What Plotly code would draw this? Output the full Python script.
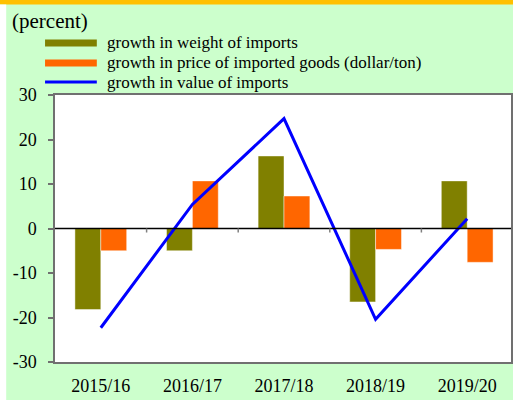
import plotly.graph_objects as go

categories = ["2015/16", "2016/17", "2017/18", "2018/19", "2019/20"]
weight_growth = [-18.2, -5.0, 16.3, -16.5, 10.7]
price_growth = [-5.0, 10.7, 7.3, -4.7, -7.6]
value_growth = [-22.3, 5.4, 24.7, -20.4, 2.2]
series_names = [
    "growth in weight of imports",
    "growth in price of imported goods (dollar/ton)",
    "growth in value of imports",
]
y_ticks = [-30, -20, -10, 0, 10, 20, 30]
y_tick_labels = ["-30", "-20", "-10", "0", "10", "20", "30"]
unit_label = "(percent)"

OLIVE = "#808000"
ORANGE = "#FF6600"
BLUE = "#0000FF"
GREEN_BG = "#CCFFCC"
GOLD = "#FFC000"
FONT = "'Times New Roman', 'Liberation Serif', 'DejaVu Serif', serif"

W, H = 513, 403
L, R, T, B = 55, 0, 95, 41
PW = W - L - R
PH = H - T - B


def px(xp):
    return (xp - L) / PW


def py(yp):
    return (H - B - yp) / PH


xs = list(range(len(categories)))

fig = go.Figure()
fig.add_trace(go.Bar(x=xs, y=weight_growth, name=series_names[0],
                     marker=dict(color=OLIVE, line=dict(color="rgba(255,255,255,0.45)", width=1)),
                     showlegend=False))
fig.add_trace(go.Bar(x=xs, y=price_growth, name=series_names[1],
                     marker=dict(color=ORANGE, line=dict(color="rgba(255,255,255,0.45)", width=1)),
                     showlegend=False))
fig.add_trace(go.Scatter(x=xs, y=value_growth, name=series_names[2], mode="lines",
                         line=dict(color=BLUE, width=3), showlegend=False))

shapes = []
# zero line
shapes.append(dict(type="line", xref="paper", yref="y", x0=0, x1=1, y0=0, y1=0,
                   line=dict(color="black", width=1.5), layer="above"))
# category boundary ticks at zero line
for i in range(len(categories) - 1):
    shapes.append(dict(type="line", xref="x", yref="y", x0=i + 0.5, x1=i + 0.5, y0=0, y1=-0.9,
                       line=dict(color="#808080", width=1.5), layer="above"))
# gold top stripe
shapes.append(dict(type="rect", xref="paper", yref="paper", x0=px(-5), x1=px(W + 5),
                   y0=py(4.5), y1=py(-5), fillcolor=GOLD, line=dict(width=0)))
# white left strip and bottom strip
shapes.append(dict(type="rect", xref="paper", yref="paper", x0=px(-5), x1=px(6),
                   y0=py(H + 5), y1=py(4.5), fillcolor="white", line=dict(width=0)))
shapes.append(dict(type="rect", xref="paper", yref="paper", x0=px(-5), x1=px(W + 5),
                   y0=py(H + 5), y1=py(400), fillcolor="white", line=dict(width=0)))

# manual legend
rows_y = [43, 63, 82]
colors = [OLIVE, ORANGE, BLUE]
annotations = []
for i, (name, c, ry) in enumerate(zip(series_names, colors, rows_y)):
    if i < 2:
        shapes.append(dict(type="rect", xref="paper", yref="paper", x0=px(45), x1=px(97),
                           y0=py(ry + 3.5), y1=py(ry - 3.5), fillcolor=c, line=dict(width=0)))
    else:
        shapes.append(dict(type="line", xref="paper", yref="paper", x0=px(45), x1=px(97),
                           y0=py(ry), y1=py(ry), line=dict(color=c, width=3)))
    annotations.append(dict(text=name, xref="paper", yref="paper", x=px(105), y=py(ry),
                            xanchor="left", yanchor="middle", showarrow=False,
                            font=dict(family=FONT, size=17, color="black")))
annotations.append(dict(text=unit_label, xref="paper", yref="paper", x=px(10), y=py(21),
                        xanchor="left", yanchor="middle", showarrow=False,
                        font=dict(family=FONT, size=21, color="black")))

fig.update_layout(
    width=W, height=H,
    margin=dict(l=L, r=R, t=T, b=B, pad=0),
    paper_bgcolor=GREEN_BG,
    plot_bgcolor="white",
    barmode="group",
    bargap=0.435,
    bargroupgap=0,
    font=dict(family=FONT, size=18, color="black"),
    shapes=shapes,
    annotations=annotations,
    xaxis=dict(
        tickmode="array", tickvals=xs, ticktext=categories,
        range=[-0.5, -0.5 + PW / 92.0],
        showgrid=False, zeroline=False,
        showline=True, mirror=True, linecolor="#707070", linewidth=1.5,
        ticks="", ticklabelstandoff=7,
        tickfont=dict(family=FONT, size=18, color="black"),
        fixedrange=True,
    ),
    yaxis=dict(
        range=[-30, 30], tickmode="array", tickvals=y_ticks, ticktext=y_tick_labels,
        showgrid=False, zeroline=False,
        showline=True, mirror=True, linecolor="#707070", linewidth=1.5,
        ticks="outside", ticklen=5, tickcolor="#707070", tickwidth=1.5,
        ticklabelstandoff=8,
        tickfont=dict(family=FONT, size=18, color="black"),
        fixedrange=True,
    ),
)

fig.write_html(
    "out.html",
    config={"displayModeBar": False},
    post_script="document.body.style.margin='0';document.body.style.overflow='hidden';",
)
